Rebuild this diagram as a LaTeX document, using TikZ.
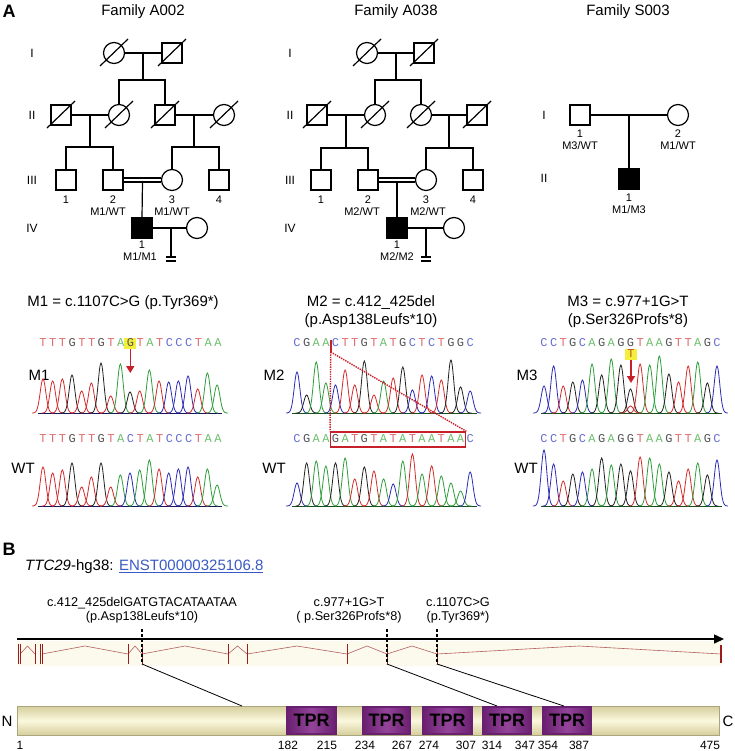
\documentclass[tikz,border=0pt]{standalone}
\usepackage{fontspec}
\setmainfont{Liberation Sans}
\newfontfamily\seqfont{Liberation Mono}
\usetikzlibrary{arrows.meta}
\definecolor{cr}{HTML}{D42A2A}
\definecolor{ck}{HTML}{222222}
\definecolor{cg}{HTML}{2E9E3A}
\definecolor{cb}{HTML}{2B2BB8}
\definecolor{sT}{HTML}{E06B6B}
\definecolor{sG}{HTML}{555555}
\definecolor{sA}{HTML}{6BBE6B}
\definecolor{sC}{HTML}{6670D0}
\definecolor{hl}{HTML}{F2F03A}
\definecolor{hlT}{HTML}{C0502A}
\definecolor{arr}{HTML}{C8202A}
\definecolor{link}{HTML}{3A5BC4}
\definecolor{exon}{HTML}{9A1C1C}
\definecolor{intron}{HTML}{B46060}
\definecolor{band}{HTML}{FCFAEC}
\definecolor{creamL}{HTML}{FBF8DE}
\definecolor{creamD}{HTML}{D5CE9C}
\definecolor{tprL}{HTML}{94449A}
\definecolor{tprD}{HTML}{6A2070}
\newcommand\fsHead{\fontsize{15}{18}\selectfont}
\newcommand\fsGen{\fontsize{12}{14}\selectfont}
\newcommand\fsLab{\fontsize{11}{12}\selectfont}
\newcommand\fsSeq{\seqfont\fontsize{12}{14}\selectfont}
\newcommand\fsPanel{\bfseries\fontsize{18}{20}\selectfont}
\newcommand\fsMut{\fontsize{12.7}{14}\selectfont}
\newcommand\fsNum{\fontsize{12}{14}\selectfont}
\newcommand\fsTPR{\bfseries\fontsize{18}{20}\selectfont}
\newcommand\deceased[1]{\draw[ped] ([shift={(-14,13)}]#1.center) -- ([shift={(14,-14)}]#1.center);}
\newcommand\chrom[4]{%
  \foreach \cc/\hh [count=\ii from 0] in {#4}{%
    \pgfmathsetmacro\xx{#1+\ii*#2}%
    \pgfmathsetmacro\xa{\xx-11}%
    \pgfmathsetmacro\xb{\xx+11}%
    \draw[c\cc, trace] plot[domain=\xa:\xb, samples=29, smooth] (\x,{#3-\hh*exp(-((\x-\xx)*(\x-\xx))/16)});}}
\newcommand\seqrow[5]{%
  \foreach \ll [count=\ii from 0] in {#5}{%
    \pgfmathsetmacro\xx{#1+\ii*#2}%
    \node[seqtxt, text=s\ll] (#4\ii) at (\xx,#3) {\ll};}}
\begin{document}
\begin{tikzpicture}[x=1pt,y=-1pt,
  ped/.style={line width=1.2pt},
  male/.style={draw, line width=1.2pt, minimum size=20pt, inner sep=0pt},
  female/.style={draw, circle, line width=1.2pt, minimum size=21pt, inner sep=0pt},
  aff/.style={fill=black},
  lbl/.style={inner sep=0pt, font=\fsLab},
  gen/.style={inner sep=0pt, font=\fsGen},
  head/.style={inner sep=0pt, font=\fsHead},
  seqtxt/.style={inner sep=0pt, font=\fsSeq},
  trace/.style={line width=0.8pt},
  mut/.style={inner sep=0pt, font=\fsMut, align=center},
  num/.style={inner sep=0pt, font=\fsNum},
  tpr/.style={draw=tprD, line width=1.2pt, left color=tprD, right color=tprD, middle color=tprL, minimum height=27pt, inner sep=0pt, font=\fsTPR}]
\useasboundingbox (0,0) rectangle (734,751);
\fill[white] (0,0) rectangle (734,751);

% ---------------- Panel A titles
\node[inner sep=0pt, font=\fsPanel] (pA) at (9,11) {A};
\node[head] (tA002) at (143,12) {Family A002};
\node[head] (tA038) at (396,12) {Family A038};
\node[head] (tS003) at (628,12) {Family S003};

% ---------------- Family A002
\node[gen] (aGI) at (32,53) {I};
\node[gen] (aGII) at (32,115) {II};
\node[gen] (aGIII) at (32,180) {III};
\node[gen] (aGIV) at (32,228) {IV};
\node[female] (a1f) at (114,53) {};
\node[male] (a1m) at (172,53) {};
\deceased{a1f}\deceased{a1m}
\draw[ped] (a1f) -- (a1m);
\coordinate (a1d) at (143,53); \coordinate (a1s) at (143,80);
\draw[ped] (a1d) -- (a1s);
\node[male] (a2m1) at (61,115) {};
\node[female] (a2f1) at (119,115) {};
\node[male] (a2m2) at (165,115) {};
\node[female] (a2f2) at (224,115) {};
\deceased{a2m1}\deceased{a2f1}\deceased{a2m2}\deceased{a2f2}
\draw[ped] (a2f1.north) -- (a2f1.north |- a1s) -| (a2m2.north);
\draw[ped] (a2m1) -- (a2f1);
\draw[ped] (a2m2) -- (a2f2);
\coordinate (a2d1) at (90,115); \coordinate (a2s1) at (90,147);
\coordinate (a2d2) at (194,115); \coordinate (a2s2) at (194,147);
\draw[ped] (a2d1) -- (a2s1);
\draw[ped] (a2d2) -- (a2s2);
\node[male] (a3m1) at (66,180) {};
\node[male] (a3m2) at (113,180) {};
\node[female] (a3f) at (172,180) {};
\node[male] (a3m4) at (219,180) {};
\draw[ped] (a3m1.north) -- (a3m1.north |- a2s1) -| (a3m2.north);
\draw[ped] (a3f.north) -- (a3f.north |- a2s2) -| (a3m4.north);
\draw[ped] ([yshift=2pt]a3m2.east) -- ([yshift=2pt]a3f.west);
\draw[ped] ([yshift=-2pt]a3m2.east) -- ([yshift=-2pt]a3f.west);
\coordinate (a3d) at (142.5,182);
\node[male, aff] (a4m) at (142,228) {};
\node[female] (a4f) at (197,228) {};
\draw[ped] (a3d) -- (a4m.north);
\draw[ped] (a4m) -- (a4f);
\coordinate (a4d) at (171,228); \coordinate (a4e) at (171,257);
\draw[ped] (a4d) -- (a4e);
\draw[ped] ([xshift=-5pt]a4e) -- ([xshift=5pt]a4e);
\draw[ped] ([shift={(-5,4)}]a4e) -- ([shift={(5,4)}]a4e);
\node[lbl] (a3n1) at (66,200) {1};
\node[lbl] (a3n2) at (113,200) {2};
\node[lbl] (a3n3) at (172,200) {3};
\node[lbl] (a3n4) at (219,200) {4};
\node[lbl] (a3g2) at (108,212) {M1/WT};
\node[lbl] (a3g3) at (172,212) {M1/WT};
\node[lbl] (a4n1) at (142,245) {1};
\node[lbl] (a4g1) at (140,257) {M1/M1};

% ---------------- Family A038
\node[gen] (bGI) at (290,53) {I};
\node[gen] (bGII) at (290,115) {II};
\node[gen] (bGIII) at (290,180) {III};
\node[gen] (bGIV) at (290,228) {IV};
\node[female] (b1f) at (367,53) {};
\node[male] (b1m) at (424,53) {};
\deceased{b1f}\deceased{b1m}
\draw[ped] (b1f) -- (b1m);
\coordinate (b1d) at (396,53); \coordinate (b1s) at (396,80);
\draw[ped] (b1d) -- (b1s);
\node[male] (b2m1) at (317,115) {};
\node[female] (b2f1) at (375,115) {};
\node[female] (b2f2) at (421,115) {};
\node[male] (b2m2) at (477,115) {};
\deceased{b2m1}\deceased{b2f1}\deceased{b2f2}\deceased{b2m2}
\draw[ped] (b2f1.north) -- (b2f1.north |- b1s) -| (b2f2.north);
\draw[ped] (b2m1) -- (b2f1);
\draw[ped] (b2f2) -- (b2m2);
\coordinate (b2d1) at (346,115); \coordinate (b2s1) at (346,148);
\coordinate (b2d2) at (449,115); \coordinate (b2s2) at (449,148);
\draw[ped] (b2d1) -- (b2s1);
\draw[ped] (b2d2) -- (b2s2);
\node[male] (b3m1) at (321,180) {};
\node[male] (b3m2) at (368,180) {};
\node[female] (b3f) at (426,180) {};
\node[male] (b3m4) at (473,180) {};
\draw[ped] (b3m1.north) -- (b3m1.north |- b2s1) -| (b3m2.north);
\draw[ped] (b3f.north) -- (b3f.north |- b2s2) -| (b3m4.north);
\draw[ped] ([yshift=2pt]b3m2.east) -- ([yshift=2pt]b3f.west);
\draw[ped] ([yshift=-2pt]b3m2.east) -- ([yshift=-2pt]b3f.west);
\coordinate (b3d) at (397,182);
\node[male, aff] (b4m) at (397,228) {};
\node[female] (b4f) at (454,228) {};
\draw[ped] (b3d) -- (b4m.north);
\draw[ped] (b4m) -- (b4f);
\coordinate (b4d) at (426,228); \coordinate (b4e) at (426,257);
\draw[ped] (b4d) -- (b4e);
\draw[ped] ([xshift=-5pt]b4e) -- ([xshift=5pt]b4e);
\draw[ped] ([shift={(-5,4)}]b4e) -- ([shift={(5,4)}]b4e);
\node[lbl] (b3n1) at (321,200) {1};
\node[lbl] (b3n2) at (368,200) {2};
\node[lbl] (b3n3) at (426,200) {3};
\node[lbl] (b3n4) at (473,200) {4};
\node[lbl] (b3g2) at (362,212) {M2/WT};
\node[lbl] (b3g3) at (428,212) {M2/WT};
\node[lbl] (b4n1) at (397,245) {1};
\node[lbl] (b4g1) at (397,257) {M2/M2};

% ---------------- Family S003
\node[gen] (cGI) at (544,115) {I};
\node[gen] (cGII) at (544,178) {II};
\node[male] (c1m) at (580,115) {};
\node[female] (c1f) at (678,115) {};
\draw[ped] (c1m) -- (c1f);
\coordinate (c1d) at (629,115);
\node[male, aff] (c2m) at (629,179) {};
\draw[ped] (c1d) -- (c2m.north);
\node[lbl] (c1n1) at (580,134) {1};
\node[lbl] (c1g1) at (580,146) {M3/WT};
\node[lbl] (c1n2) at (678,134) {2};
\node[lbl] (c1g2) at (678,146) {M1/WT};
\node[lbl] (c2n1) at (629,198) {1};
\node[lbl] (c2g1) at (629,210) {M1/M3};

% ---------------- Chromatogram headings
\node[head] (h1) at (123,303) {M1 = c.1107C>G (p.Tyr369*)};
\node[head, align=center] (h2) at (371,312) {M2 = c.412\_425del\\(p.Asp138Leufs*10)};
\node[head, align=center] (h3) at (628,312) {M3 = c.977+1G>T\\(p.Ser326Profs*8)};
\node[head] (l1) at (39,375) {M1};
\node[head] (l1w) at (23,468) {WT};
\node[head] (l2) at (274,375) {M2};
\node[head] (l2w) at (274,468) {WT};
\node[head] (l3) at (527,375) {M3};
\node[head] (l3w) at (526,468) {WT};

% highlights
\node[fill=hl, minimum width=12pt, minimum height=11pt, inner sep=0pt] (m1hl) at (130.3,343.5) {};
\seqrow{43}{9.72}{343}{m1s}{T,T,T,G,T,T,G,T,A,G,T,A,T,C,C,C,T,A,A}
\seqrow{43}{9.72}{439}{w1s}{T,T,T,G,T,T,G,T,A,C,T,A,T,C,C,C,T,A,A}
\seqrow{297}{9.62}{343}{m2s}{C,G,A,A,C,T,T,G,T,A,T,G,C,T,C,T,G,G,C}
\seqrow{297}{9.62}{439}{w2s}{C,G,A,A,G,A,T,G,T,A,T,A,T,A,A,T,A,A,C}
\seqrow{544}{9.61}{343}{m3s}{C,C,T,G,C,A,G,A,G,G,T,A,A,G,T,T,A,G,C}
\seqrow{544}{9.61}{439}{w3s}{C,C,T,G,C,A,G,A,G,G,T,A,A,G,T,T,A,G,C}
\node[seqtxt, fill=hl, text=hlT, minimum width=12pt, minimum height=11pt] (m3hl) at (631,354) {T};

% chromatograms
\draw[line width=0.8pt, cb!50!black] (38,413) -- (222,413);
\draw[line width=0.8pt, cb!50!black] (38,506) -- (222,506);
\draw[line width=0.8pt, cg!50!black] (292,413) -- (477,413);
\draw[line width=0.8pt, cg!50!black] (292,506) -- (477,506);
\draw[line width=0.8pt, cg!50!black] (541,413) -- (722,413);
\draw[line width=0.8pt, cg!50!black] (541,506) -- (722,506);
\chrom{43}{9.67}{413}{r/34,r/32,r/34,k/38,r/22,r/30,k/50,r/17,g/49,k/21,r/22,g/43,r/32,b/31,b/32,b/37,r/24,g/40,g/28}
\chrom{43}{9.67}{506}{r/39,r/33,r/36,k/43,r/19,r/29,k/43,r/19,g/31,b/33,g/36,g/46,r/37,b/33,b/37,b/39,r/29,g/37,g/21}
\chrom{297}{9.62}{413}{b/41,k/18,g/51,g/30,b/28,r/43,r/28,k/52,r/18,g/32,r/35,k/46,b/23,r/38,b/37,r/33,k/53,k/26,b/22}
\chrom{297}{9.62}{506}{b/23,k/43,g/45,g/40,k/43,g/48,r/27,k/39,r/35,g/27,b/22,g/45,r/52,g/32,r/40,g/30,g/23,g/15,b/34}
\chrom{544}{9.61}{413}{b/27,b/47,r/27,k/31,b/33,g/49,k/38,g/54,k/48,k/24,r/49,g/48,g/57,k/39,r/31,r/47,g/51,k/30,b/47}
\chrom{630.5}{9.61}{413}{r/7}
\chrom{544}{9.61}{506}{b/56,b/42,r/25,k/32,b/34,g/37,k/48,g/41,k/42,k/35,r/49,g/48,g/42,k/34,r/25,r/37,g/43,k/31,b/46}

% arrows
\coordinate (m1tip) at (130.3,373);
\draw[arr, line width=1.6pt, -{Triangle[length=7pt,width=8pt]}] (m1hl.south) -- (m1tip);
\coordinate (m3tip) at (631,383);
\draw[arr, line width=1.6pt, -{Triangle[length=7pt,width=8pt]}] (m3hl.south) -- (m3tip);

% M2 deletion marks
\node[draw=arr, line width=1.3pt, minimum width=135pt, minimum height=15pt, inner sep=0pt] (m2box) at (398.2,439.5) {};
\coordinate (m2top) at (330.7,340);
\coordinate (m2bot) at (330.7,352);
\draw[arr, line width=1.6pt] (m2top) -- (m2bot);
\draw[arr, line width=1.4pt, densely dotted] (m2bot) -- (m2box.north west);
\draw[arr, line width=1.4pt, densely dotted] (m2bot) -- (m2box.north east);

% ---------------- Panel B
\node[inner sep=0pt, font=\fsPanel] (pB) at (9,549) {B};
\node[anchor=west, inner sep=0pt, font=\fsHead] (gene) at (25,567) {\textit{TTC29}-hg38: \textcolor{link}{\underline{ENST00000325106.8}}};
\node[mut] (mutA) at (142,610) {c.412\_425delGATGTACATAATAA\\(p.Asp138Leufs*10)};
\node[mut] (mutB) at (349,610) {c.977+1G>T\\( p.Ser326Profs*8)};
\node[mut] (mutC) at (458,610) {c.1107C>G\\(p.Tyr369*)};

\fill[band] (17,641) rectangle (722,666);
\coordinate (axs) at (17,639);
\coordinate (axe) at (724,639);
\draw[line width=1.5pt, -{Triangle[length=10pt,width=9pt]}] (axs) -- (axe);
\foreach \aa/\bb in {20/35,42/128,128/142,142/228,228/247,247/347,347/387,387/437,437/721}
  \draw[intron, line width=0.6pt] (\aa,654) -- ({(\aa+\bb)/2},646) -- (\bb,654);
\foreach \ex in {18,20,35,40,42,128,142,228,247,347,387,437}
  \draw[exon, line width=0.9pt] (\ex,644) -- (\ex,664);
\draw[exon, line width=2pt] (721,645) -- (721,663);

% protein
\node[draw=creamD!80!black, line width=0.4pt, top color=creamD, bottom color=creamD, middle color=creamL, minimum width=702pt, minimum height=29pt, inner sep=0pt] (prot) at (368,720.5) {};
\node[tpr, minimum width=49pt] (tpr1) at (311.5,720.5) {TPR};
\node[tpr, minimum width=47pt] (tpr2) at (386.5,720.5) {TPR};
\node[tpr, minimum width=49pt] (tpr3) at (447.5,720.5) {TPR};
\node[tpr, minimum width=48pt] (tpr4) at (507,720.5) {TPR};
\node[tpr, minimum width=48pt] (tpr5) at (567,720.5) {TPR};

% mutation connectors
\coordinate (d1t) at (142,629); \coordinate (d1b) at (142,664);
\coordinate (d2t) at (387,629); \coordinate (d2b) at (387,664);
\coordinate (d3t) at (437,629); \coordinate (d3b) at (437,664);
\coordinate (p1) at (242,706); \coordinate (p2) at (497,706); \coordinate (p3) at (564,706);
\draw[line width=1.4pt, dash pattern=on 3pt off 2pt] (d1t) -- (d1b);
\draw[line width=1.4pt, dash pattern=on 3pt off 2pt] (d2t) -- (d2b);
\draw[line width=1.4pt, dash pattern=on 3pt off 2pt] (d3t) -- (d3b);
\draw[line width=0.8pt] (d1b) -- (p1);
\draw[line width=0.8pt] (d2b) -- (p2);
\draw[line width=0.8pt] (d3b) -- (p3);

\node[inner sep=0pt, font=\fsHead] (nN) at (7,721) {N};
\node[inner sep=0pt, font=\fsHead] (nC) at (728,721) {C};
\foreach \nn/\px in {1/20,182/288,215/327,234/365,267/402,274/429,307/466,314/492,347/525,354/548,387/579,475/710}
  \node[num] (pn\nn) at (\px,745) {\nn};
\end{tikzpicture}
\end{document}
